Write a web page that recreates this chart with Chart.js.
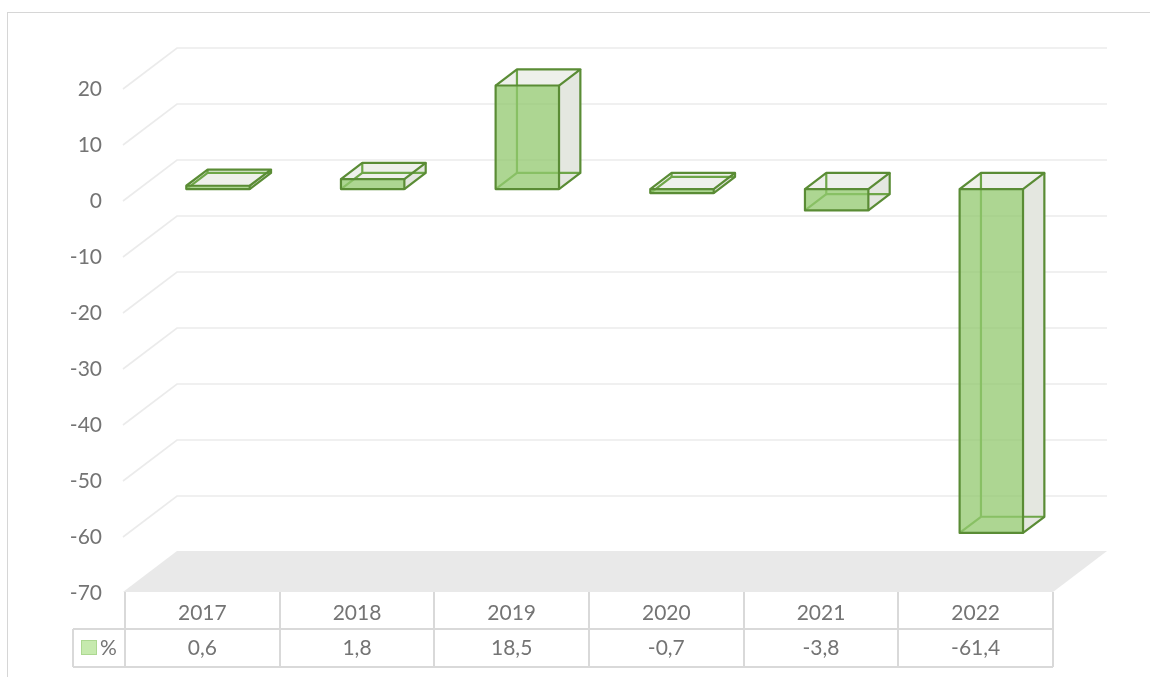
<!DOCTYPE html>
<html>
<head>
<meta charset="utf-8">
<title>%</title>
<script src="https://cdn.jsdelivr.net/npm/chart.js@4.4.0/dist/chart.umd.min.js"></script>
<style>
  html, body { margin: 0; padding: 0; background: #fff; }
  #chart { display: block; }
</style>
</head>
<body>
<canvas id="chart" width="1150" height="677"></canvas>
<script>
const years = ['2017', '2018', '2019', '2020', '2021', '2022'];
const changePct = [0.6, 1.8, 18.5, -0.7, -3.8, -61.4];
const seriesName = '%';
const yMin = -70;
const yMax = 20;
const yStep = 10;

// depth of the 3D walls, and where the columns sit inside that depth
const DEPTH_X = 54;
const DEPTH_Y = -41;
const COL_FRONT = 0.29;
const COL_BACK = 0.685;

const TEXT = '#747474';
const GRID = '#ebebeb';
const FLOOR = '#e9e9e9';
const TABLE_LINE = '#d9d9d9';
const EDGE = '#5a8c35';
const EDGE_HIDDEN = '#6ea648';
const FRONT_FILL = 'rgba(146, 200, 110, 0.75)';
const TOP_FILL = '#eef0eb';
const SIDE_FILL = '#e4e7e0';
const FONT = '21px Lato';

function fmt(v) {
  return String(v).replace('.', ',');
}

function poly(ctx, pts) {
  ctx.beginPath();
  ctx.moveTo(pts[0][0], pts[0][1]);
  for (let i = 1; i < pts.length; i++) ctx.lineTo(pts[i][0], pts[i][1]);
}

const walls = {
  id: 'walls',
  beforeDraw(chart) {
    const ctx = chart.ctx;
    const { left, right } = chart.chartArea;
    const y = chart.scales.y;
    ctx.save();
    ctx.fillStyle = '#fff';
    ctx.fillRect(0, 0, chart.width, chart.height);
    ctx.strokeStyle = '#d6d6d6';
    ctx.lineWidth = 1;
    ctx.strokeRect(7.5, 12.5, chart.width + 20, chart.height + 20);

    // side wall + back wall gridlines
    ctx.strokeStyle = GRID;
    ctx.lineWidth = 1.6;
    for (let v = yMin + yStep; v <= yMax; v += yStep) {
      const yf = y.getPixelForValue(v);
      poly(ctx, [[left - 2, yf], [left - 2 + DEPTH_X, yf + DEPTH_Y], [right + DEPTH_X, yf + DEPTH_Y]]);
      ctx.stroke();
    }

    // floor
    const yf = y.getPixelForValue(yMin) - 1;
    ctx.fillStyle = FLOOR;
    poly(ctx, [[left - 2, yf], [left - 2 + DEPTH_X, yf + DEPTH_Y], [right + DEPTH_X, yf + DEPTH_Y], [right, yf]]);
    ctx.closePath();
    ctx.fill();

    // data table under the floor
    const x = chart.scales.x;
    const n = years.length;
    const catW = (right - left) / n;
    const rowTop = yf;
    const rowMid = yf + 37;
    const rowBot = yf + 75;
    ctx.strokeStyle = TABLE_LINE;
    ctx.lineWidth = 2;
    for (let i = 0; i <= n; i++) {
      const cx = Math.round(left + i * catW);
      poly(ctx, [[cx, rowTop], [cx, rowBot]]);
      ctx.stroke();
    }
    const keyLeft = left - 52;
    poly(ctx, [[keyLeft, rowMid], [right, rowMid]]);
    ctx.stroke();
    poly(ctx, [[keyLeft, rowBot], [right, rowBot]]);
    ctx.stroke();
    poly(ctx, [[keyLeft, rowMid], [keyLeft, rowBot]]);
    ctx.stroke();

    ctx.fillStyle = TEXT;
    ctx.font = FONT;
    ctx.textAlign = 'center';
    ctx.textBaseline = 'middle';
    years.forEach((yr, i) => {
      const cx = x.getPixelForValue(i);
      ctx.fillText(yr, cx, (rowTop + rowMid) / 2 + 3);
      ctx.fillText(fmt(changePct[i]), cx, (rowMid + rowBot) / 2);
    });

    // legend key in the first cell
    ctx.fillStyle = '#c6eaae';
    ctx.strokeStyle = '#acd891';
    ctx.lineWidth = 1;
    ctx.fillRect(keyLeft + 8, rowMid + 11, 16, 15);
    ctx.strokeRect(keyLeft + 8.5, rowMid + 11.5, 15, 14);
    ctx.fillStyle = TEXT;
    ctx.textAlign = 'left';
    ctx.fillText(seriesName, keyLeft + 27, (rowMid + rowBot) / 2);
    ctx.restore();
  }
};

const columns3d = {
  id: 'columns3d',
  afterDatasetsDraw(chart) {
    const ctx = chart.ctx;
    const meta = chart.getDatasetMeta(0);
    const fx = COL_FRONT * DEPTH_X;
    const fy = COL_FRONT * DEPTH_Y;
    const bx = (COL_BACK - COL_FRONT) * DEPTH_X;
    const by = (COL_BACK - COL_FRONT) * DEPTH_Y;
    ctx.save();
    ctx.lineWidth = 2.2;
    ctx.lineJoin = 'round';
    meta.data.forEach(bar => {
      const { x, y, base, width } = bar.getProps(['x', 'y', 'base', 'width'], true);
      const x0 = x - width / 2 + fx;
      const x1 = x + width / 2 + fx;
      const t = Math.min(y, base) + fy;
      const b = Math.max(y, base) + fy;

      // top and right faces
      ctx.fillStyle = TOP_FILL;
      poly(ctx, [[x0, t], [x1, t], [x1 + bx, t + by], [x0 + bx, t + by]]);
      ctx.closePath();
      ctx.fill();
      ctx.fillStyle = SIDE_FILL;
      poly(ctx, [[x1, t], [x1 + bx, t + by], [x1 + bx, b + by], [x1, b]]);
      ctx.closePath();
      ctx.fill();

      // back edges, seen through the faces
      ctx.strokeStyle = EDGE_HIDDEN;
      poly(ctx, [[x0 + bx, t + by], [x0 + bx, b + by], [x1 + bx, b + by]]);
      ctx.stroke();
      poly(ctx, [[x0, b], [x0 + bx, b + by]]);
      ctx.stroke();

      // front face
      ctx.fillStyle = FRONT_FILL;
      ctx.fillRect(x0, t, x1 - x0, b - t);

      // visible edges
      ctx.strokeStyle = EDGE;
      ctx.strokeRect(x0, t, x1 - x0, b - t);
      poly(ctx, [[x0, t], [x0 + bx, t + by], [x1 + bx, t + by], [x1, t]]);
      ctx.stroke();
      poly(ctx, [[x1 + bx, t + by], [x1 + bx, b + by], [x1, b]]);
      ctx.stroke();
    });
    ctx.restore();
  }
};

new Chart(document.getElementById('chart'), {
  type: 'bar',
  data: {
    labels: years,
    datasets: [{
      label: seriesName,
      data: changePct,
      backgroundColor: 'rgba(0,0,0,0)',
      borderWidth: 0,
      categoryPercentage: 1,
      barPercentage: 0.41
    }]
  },
  options: {
    responsive: false,
    animation: false,
    layout: { padding: { top: 89, right: 97, bottom: 84, left: 0 } },
    plugins: {
      legend: { display: false },
      tooltip: { enabled: false }
    },
    scales: {
      x: { display: false },
      y: {
        min: yMin,
        max: yMax,
        ticks: {
          stepSize: yStep,
          padding: 23,
          color: TEXT,
          font: { family: 'Lato', size: 21 }
        },
        grid: { display: false, drawTicks: false },
        border: { display: false },
        afterFit(scale) { scale.width = 125; }
      }
    }
  },
  plugins: [walls, columns3d]
});
</script>
</body>
</html>
